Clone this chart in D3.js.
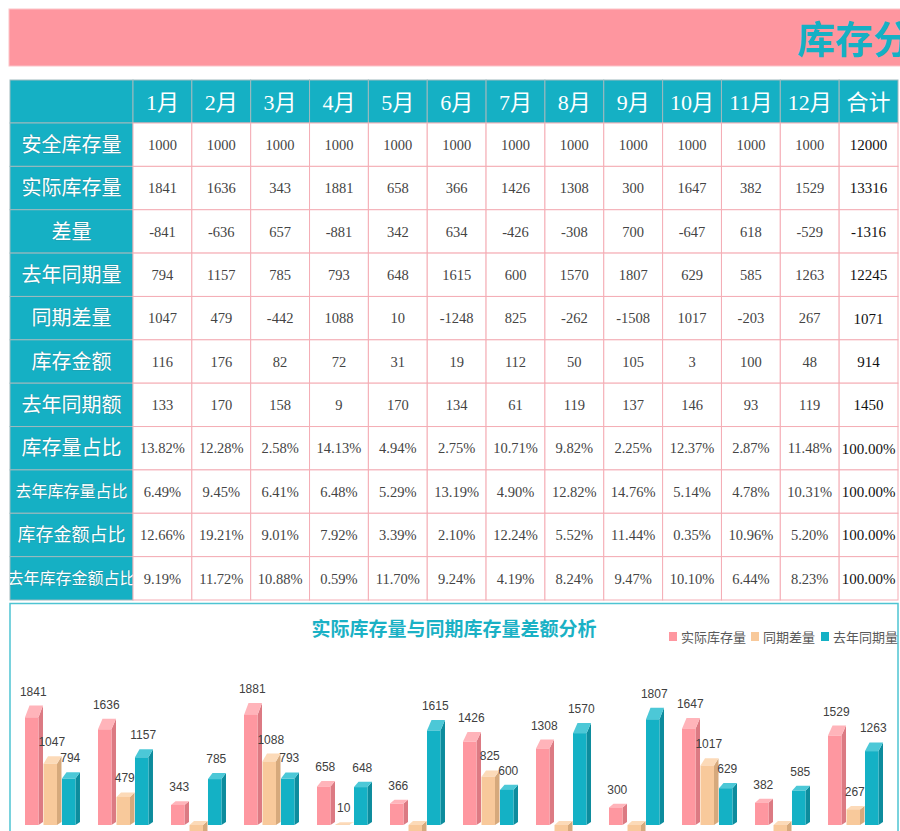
<!DOCTYPE html>
<html>
<head>
<meta charset="utf-8">
<script src="https://cdn.jsdelivr.net/npm/d3@7"></script>
<style>
  html, body { margin: 0; padding: 0; overflow: hidden; background: #fff; }
  svg { display: block; }
  .cell-num { font-family: "Liberation Serif", "Noto Sans CJK SC", serif; }
  .cjk { font-family: "Noto Sans CJK SC", sans-serif; }
</style>
</head>
<body>
<svg id="chart"></svg>
<script>
const width = 900;
const height = 831;

// table data
const months = ["1月", "2月", "3月", "4月", "5月", "6月", "7月", "8月", "9月", "10月", "11月", "12月"];
const totalLabel = "合计";
const rowLabels = ["安全库存量", "实际库存量", "差量", "去年同期量", "同期差量", "库存金额", "去年同期额",
  "库存量占比", "去年库存量占比", "库存金额占比", "去年库存金额占比"];

const safetyStock = [1000, 1000, 1000, 1000, 1000, 1000, 1000, 1000, 1000, 1000, 1000, 1000, 12000];
const actualStock = [1841, 1636, 343, 1881, 658, 366, 1426, 1308, 300, 1647, 382, 1529, 13316];
const stockDiff = [-841, -636, 657, -881, 342, 634, -426, -308, 700, -647, 618, -529, -1316];
const lastYearStock = [794, 1157, 785, 793, 648, 1615, 600, 1570, 1807, 629, 585, 1263, 12245];
const yoyDiff = [1047, 479, -442, 1088, 10, -1248, 825, -262, -1508, 1017, -203, 267, 1071];
const stockAmount = [116, 176, 82, 72, 31, 19, 112, 50, 105, 3, 100, 48, 914];
const lastYearAmount = [133, 170, 158, 9, 170, 134, 61, 119, 137, 146, 93, 119, 1450];
const stockShare = ["13.82%", "12.28%", "2.58%", "14.13%", "4.94%", "2.75%", "10.71%", "9.82%", "2.25%", "12.37%", "2.87%", "11.48%", "100.00%"];
const lastYearStockShare = ["6.49%", "9.45%", "6.41%", "6.48%", "5.29%", "13.19%", "4.90%", "12.82%", "14.76%", "5.14%", "4.78%", "10.31%", "100.00%"];
const amountShare = ["12.66%", "19.21%", "9.01%", "7.92%", "3.39%", "2.10%", "12.24%", "5.52%", "11.44%", "0.35%", "10.96%", "5.20%", "100.00%"];
const lastYearAmountShare = ["9.19%", "11.72%", "10.88%", "0.59%", "11.70%", "9.24%", "4.19%", "8.24%", "9.47%", "10.10%", "6.44%", "8.23%", "100.00%"];

// chart series
const seriesNames = ["实际库存量", "同期差量", "去年同期量"];

const tableRows = [safetyStock, actualStock, stockDiff, lastYearStock, yoyDiff, stockAmount,
  lastYearAmount, stockShare, lastYearStockShare, amountShare, lastYearAmountShare];
const labelSizes = [20, 20, 20, 20, 20, 20, 20, 20, 16, 18, 16];

const teal = "#15b0c4";
const pink = "#fe969f";

const svg = d3.select("#chart").attr("width", width).attr("height", height);

// banner
svg.append("rect")
  .attr("x", 9).attr("y", 9)
  .attr("width", 900).attr("height", 57)
  .attr("fill", pink)
  .attr("stroke", "#fbc3c8")
  .attr("stroke-width", 1);

// title runs past the right edge, as in the sheet
svg.append("text")
  .attr("class", "cjk")
  .attr("x", 797).attr("y", 53)
  .attr("font-size", 38)
  .attr("font-weight", "bold")
  .attr("fill", teal)
  .text("库存分析表");

// table scales
const colScale = d3.scaleBand()
  .domain([...months, totalLabel])
  .range([133, 898]);

const rowScale = d3.scaleBand()
  .domain(rowLabels)
  .range([123, 600]);

const headerTop = 80;
const labelLeft = 10;

const table = svg.append("g").attr("class", "table");

// header row
table.append("rect")
  .attr("x", labelLeft).attr("y", headerTop)
  .attr("width", 133 - labelLeft).attr("height", 123 - headerTop)
  .attr("fill", teal)
  .attr("stroke", "#9fb9be");

const headerCells = table.selectAll(".hcell")
  .data(colScale.domain())
  .join("g")
  .attr("class", "hcell");

headerCells.append("rect")
  .attr("x", (d) => colScale(d))
  .attr("y", headerTop)
  .attr("width", colScale.bandwidth())
  .attr("height", 123 - headerTop)
  .attr("fill", teal)
  .attr("stroke", "#9fb9be");

headerCells.append("text")
  .attr("class", "cell-num")
  .attr("x", (d) => colScale(d) + colScale.bandwidth() / 2)
  .attr("y", 110)
  .attr("text-anchor", "middle")
  .attr("font-size", 22)
  .attr("fill", "#fff")
  .text((d) => d);

// row labels
const defs = svg.append("defs");
defs.append("clipPath")
  .attr("id", "label-clip")
  .append("rect")
  .attr("x", labelLeft).attr("y", 123)
  .attr("width", 133 - labelLeft).attr("height", 477);

const labelCells = table.selectAll(".lcell")
  .data(rowLabels)
  .join("g")
  .attr("class", "lcell");

labelCells.append("rect")
  .attr("x", labelLeft)
  .attr("y", (d) => rowScale(d))
  .attr("width", 133 - labelLeft)
  .attr("height", rowScale.bandwidth())
  .attr("fill", teal)
  .attr("stroke", "#9fb9be");

labelCells.append("text")
  .attr("class", "cjk")
  .attr("clip-path", "url(#label-clip)")
  .attr("x", (133 + labelLeft) / 2)
  .attr("y", (d) => rowScale(d) + rowScale.bandwidth() / 2)
  .attr("dy", "0.36em")
  .attr("text-anchor", "middle")
  .attr("font-size", (d, i) => labelSizes[i])
  .attr("font-weight", "normal")
  .attr("fill", "#fff")
  .style("paint-order", "stroke")
  .attr("stroke", "rgba(60,100,110,0.3)")
  .attr("stroke-width", 1)
  .text((d) => d);

// data cells
const cellData = [];
tableRows.forEach((values, r) => {
  values.forEach((v, c) => {
    cellData.push({ row: rowLabels[r], col: colScale.domain()[c], value: v });
  });
});

const cells = table.selectAll(".dcell")
  .data(cellData)
  .join("g")
  .attr("class", "dcell");

cells.append("rect")
  .attr("x", (d) => colScale(d.col))
  .attr("y", (d) => rowScale(d.row))
  .attr("width", colScale.bandwidth())
  .attr("height", rowScale.bandwidth())
  .attr("fill", "#fff")
  .attr("stroke", "#f4adb5");

cells.append("text")
  .attr("class", "cell-num")
  .attr("x", (d) => colScale(d.col) + colScale.bandwidth() / 2)
  .attr("y", (d) => rowScale(d.row) + rowScale.bandwidth() / 2)
  .attr("dy", "0.36em")
  .attr("text-anchor", "middle")
  .attr("font-size", (d) => (d.col === totalLabel ? 15 : 14.5))
  .attr("fill", (d) => (d.col === totalLabel ? "#111" : "#444"))
  .text((d) => d.value);

// chart box
svg.append("rect")
  .attr("x", 10).attr("y", 603.5)
  .attr("width", 888).attr("height", 260)
  .attr("fill", "#fff")
  .attr("stroke", "#4ec4d2")
  .attr("stroke-width", 1.5);

svg.append("text")
  .attr("class", "cjk")
  .attr("x", 454).attr("y", 636)
  .attr("text-anchor", "middle")
  .attr("font-size", 19)
  .attr("font-weight", "bold")
  .attr("fill", "#1ab1c5")
  .text("实际库存量与同期库存量差额分析");

// legend
const seriesColors = {
  "实际库存量": { front: "#fe97a0", top: "#ffb4ba", side: "#dc7a83" },
  "同期差量": { front: "#f8c99b", top: "#fcdab8", side: "#d6a97c" },
  "去年同期量": { front: "#14b1c5", top: "#4cc8d7", side: "#0d8c9d" },
};
const legendX = [669, 751, 821];

const legend = svg.append("g").attr("class", "legend");
const legendItems = legend.selectAll("g")
  .data(seriesNames)
  .join("g")
  .attr("transform", (d, i) => `translate(${legendX[i]}, 632)`);

legendItems.append("rect")
  .attr("width", 8).attr("height", 9)
  .attr("fill", (d) => seriesColors[d].front);

legendItems.append("text")
  .attr("class", "cjk")
  .attr("x", 12).attr("y", 9.5)
  .attr("font-size", 13)
  .attr("fill", "#595959")
  .text((d) => d);

// 3d columns
const chartSeries = [actualStock, yoyDiff, lastYearStock];

const x0 = d3.scaleBand()
  .domain(months)
  .range([25, 883.5])
  .paddingInner(0.24)
  .paddingOuter(0);

const x1 = d3.scaleBand()
  .domain(seriesNames)
  .range([0, x0.bandwidth()]);

const yScale = d3.scaleLinear()
  .domain([-2000, 2000])
  .range([825 + 117, 825 - 117]);

const depthX = 4.5;
const frontW = x1.bandwidth() - depthX - 0.5;

const barData = [];
months.forEach((m, i) => {
  seriesNames.forEach((s, j) => {
    barData.push({ month: m, series: s, value: chartSeries[j][i] });
  });
});

const bars = svg.append("g")
  .attr("class", "bars")
  .selectAll("g")
  .data(barData)
  .join("g");

bars.each(function (d) {
  const g = d3.select(this);
  const c = seriesColors[d.series];
  const x = x0(d.month) + x1(d.series);
  const y0 = yScale(0);
  const yv = yScale(d.value);
  const yTop = Math.min(y0, yv);
  const yBot = Math.max(y0, yv);
  const h = yBot - yTop;
  // top face depth grows with column height (perspective)
  const dz = d.value >= 0 ? 2 + 0.09 * h : 4;
  d.labelY = yTop - dz - 10;
  d.labelX = x + frontW / 2 + 1.5;

  g.append("path")
    .attr("d", `M${x + frontW},${yTop} L${x + frontW + depthX},${yTop - dz} L${x + frontW + depthX},${yBot - 3} L${x + frontW},${yBot} Z`)
    .attr("fill", c.side);

  g.append("path")
    .attr("d", `M${x},${yTop} L${x + depthX},${yTop - dz} L${x + frontW + depthX},${yTop - dz} L${x + frontW},${yTop} Z`)
    .attr("fill", c.top);

  g.append("rect")
    .attr("x", x)
    .attr("y", yTop)
    .attr("width", frontW)
    .attr("height", h)
    .attr("fill", c.front);
});

// labels of negative columns fall below the visible frame, so only positive ones are written
bars.filter((d) => d.value >= 0)
  .append("text")
  .attr("x", (d) => d.labelX)
  .attr("y", (d) => d.labelY)
  .attr("text-anchor", "middle")
  .attr("font-family", "Liberation Sans, sans-serif")
  .attr("font-size", 12)
  .attr("fill", "#404040")
  .text((d) => d.value);
</script>
</body>
</html>
